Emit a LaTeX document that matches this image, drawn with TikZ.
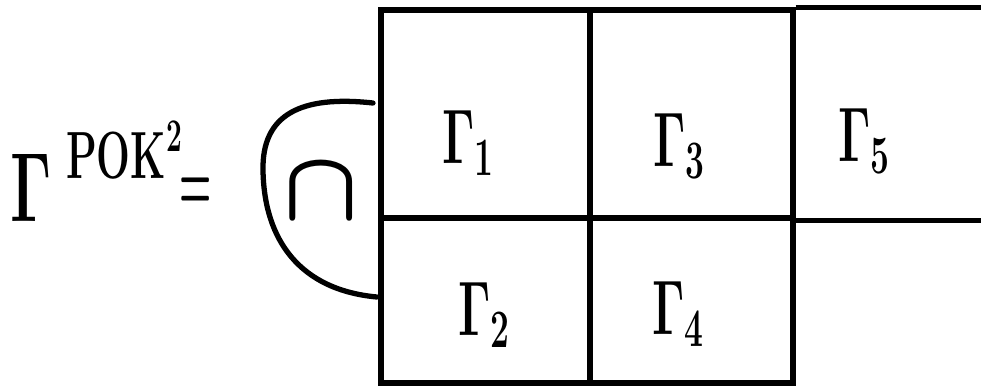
\RequirePackage{fix-cm}
\documentclass[tikz,border=0pt]{standalone}
\usetikzlibrary{positioning}
\begin{document}
\begin{tikzpicture}[x=0.02cm, y=-0.02cm,
    penline/.style={line width=3pt, line cap=round},
    cellbox/.style={draw, line width=3pt, inner sep=0pt},
    gamlabel/.style={font=\fontsize{44}{44}\selectfont\boldmath, xscale=0.62}
]
\useasboundingbox (0,0) rectangle (981,387);
% grid of cells
\node[cellbox, minimum width=4.18cm, minimum height=4.16cm] (c1) at (485.5,114) {};
\node[cellbox, minimum width=4.06cm, minimum height=4.16cm] (c3) at (691.5,114) {};
\node[cellbox, minimum width=4.18cm, minimum height=3.3cm] (c2) at (485.5,300.5) {};
\node[cellbox, minimum width=4.06cm, minimum height=3.3cm] (c4) at (691.5,300.5) {};
% open cell on the right
\draw[penline, line cap=butt] (c3.north east) -- ++(190,0);
\draw[penline, line cap=butt] (c3.south east) -- ++(190,0);

\node[gamlabel] (g1) at (468,143) {$\Gamma_1$};
\node[gamlabel] (g3) at (679,146) {$\Gamma_3$};
\node[gamlabel] (g5) at (864,141) {$\Gamma_5$};
\node[gamlabel] (g2) at (484,315) {$\Gamma_2$};
\node[gamlabel] (g4) at (678,314) {$\Gamma_4$};

% left hand side
\node[font=\fontsize{56}{56}\selectfont\boldmath, xscale=0.62] (gpok) at (31,188) {$\Gamma$};
\node[font=\fontsize{38}{38}\selectfont\boldmath, xscale=0.6, anchor=west, inner sep=0pt] (pok) at (66,150) {$\mathrm{POK}^2$};
\node[font=\fontsize{30}{30}\selectfont\boldmath, xscale=0.7, yscale=1.6, inner sep=0pt] (eq) at (196,194) {$=$};
\node[font=\fontsize{56}{56}\selectfont\boldmath] (capsym) at (321,192) {$\cap$};

% bracket round the cap
\coordinate (btop) at (373,103);
\coordinate (bbot) at (377,297);
\draw[penline] (btop) .. controls (300,95) and (262,115) .. (263,170)
    .. controls (264,240) and (300,290) .. (bbot);
\end{tikzpicture}
\end{document}
